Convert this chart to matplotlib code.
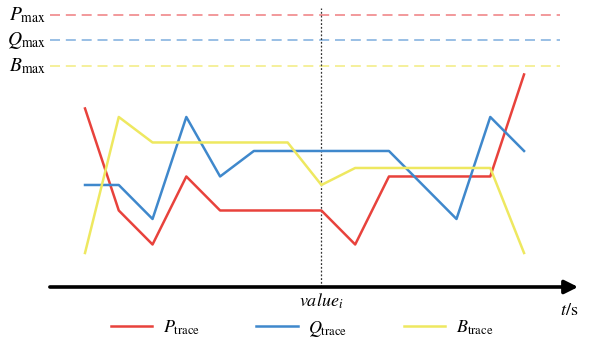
import numpy as np
import matplotlib
matplotlib.use("Agg")
import matplotlib.pyplot as plt

plt.rcParams['mathtext.fontset'] = 'stix'
plt.rcParams['font.family'] = ['Liberation Serif', 'DejaVu Serif']

# sample index along the time axis
t = np.arange(14)
P_trace = [21, 9, 5, 13, 9, 9, 9, 9, 5, 13, 13, 13, 13, 25]
Q_trace = [12, 12, 8, 20, 13, 16, 16, 16, 16, 16, 12, 8, 20, 16]
B_trace = [4, 20, 17, 17, 17, 17, 17, 12, 14, 14, 14, 14, 14, 4]
limits = {'P': 32, 'Q': 29, 'B': 26}
marker_idx = 7

red = '#e8423c'
blue = '#3f88cc'
yellow = '#eee860'
red_l = '#f0878a'
blue_l = '#88b4e0'
yellow_l = '#f3ee8a'

fig = plt.figure(figsize=(5.98, 3.38), dpi=100)
ax = fig.add_axes([0, 0, 1, 1])
ax.set_xlim(-2.517, 15.19)
ax.set_ylim(-6.0, 33.76)
ax.axis('off')

# limit lines
x0, x1 = -1.04, 14.07
for key, col in zip(['P', 'Q', 'B'], [red_l, blue_l, yellow_l]):
    ax.plot([x0, x1], [limits[key], limits[key]], color=col, lw=1.2,
            dashes=(6, 3.5))
    ax.text(-1.15, limits[key], r'$%s_{\mathrm{max}}$' % key, ha='right',
            va='center', fontsize=14)

# vertical marker
ax.plot([marker_idx, marker_idx], [0, 32.8], color='#333333', lw=0.9,
        dashes=(1.5, 1.5))

ax.plot(t, P_trace, color=red, lw=1.8, label=r'$P_{\mathrm{trace}}$')
ax.plot(t, Q_trace, color=blue, lw=1.8, label=r'$Q_{\mathrm{trace}}$')
ax.plot(t, B_trace, color=yellow, lw=1.8, label=r'$B_{\mathrm{trace}}$')

# time axis arrow
ax.annotate('', xy=(14.6, 0), xytext=(-1.04, 0),
            arrowprops=dict(arrowstyle='-|>', color='black', lw=2.6,
                            mutation_scale=20, shrinkA=0, shrinkB=0))
ax.text(marker_idx, -0.5, r'$value_i$', ha='center', va='top', fontsize=13)
ax.text(14.6, -1.8, r'$t/\mathrm{s}$', ha='right', va='top', fontsize=13)

fig.legend(loc='lower center', bbox_to_anchor=(0.505, -0.05), ncol=3,
           frameon=False, fontsize=13, handlelength=2.3, handletextpad=0.6,
           columnspacing=3.1)

fig.savefig('out.png', dpi=100)
